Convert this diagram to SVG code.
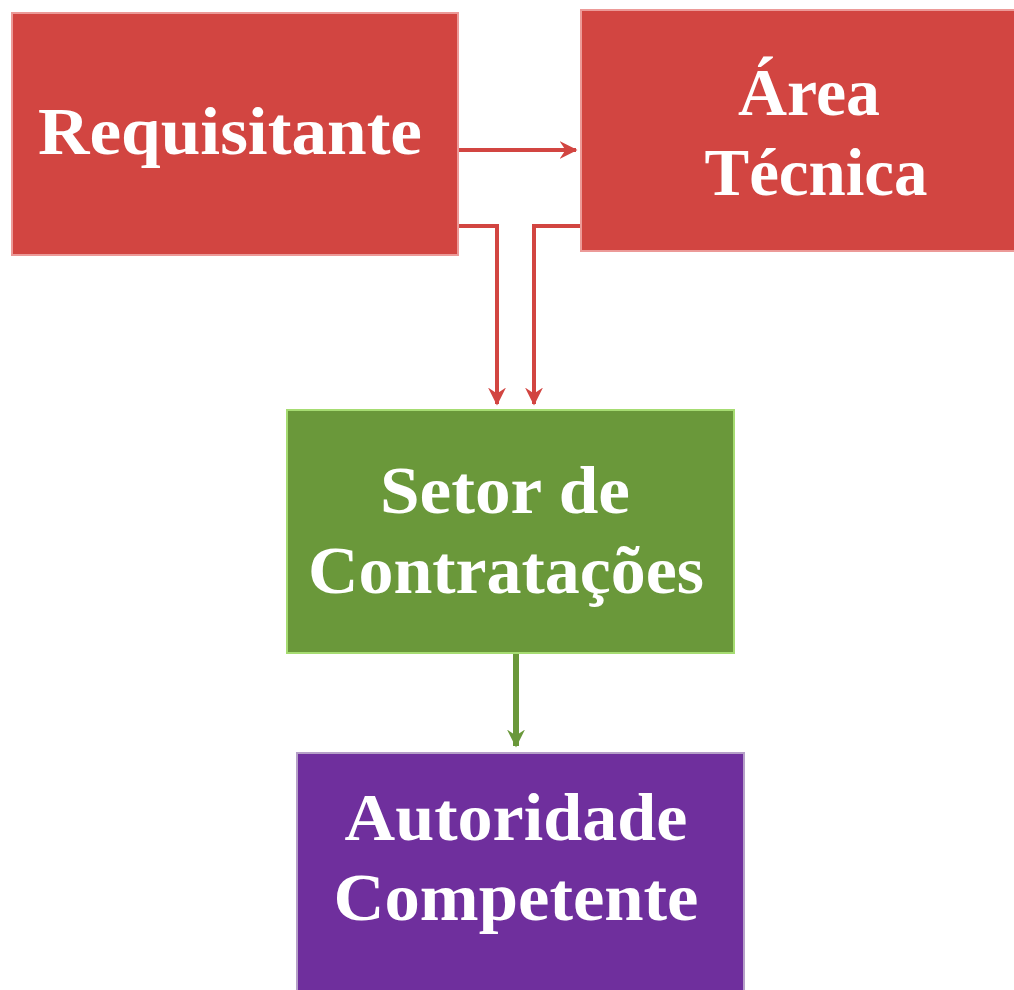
<svg xmlns="http://www.w3.org/2000/svg" width="1014" height="990" viewBox="0 0 1014 990">
<defs>
<style>
.t{font-family:"Liberation Serif","DejaVu Serif",serif;font-weight:bold;font-size:68px;fill:#ffffff;text-anchor:middle}
.red{fill:#d24541;stroke:#ec9a98;stroke-width:2}
.grn{fill:#6a983a;stroke:#a6dc72;stroke-width:2}
.pur{fill:#6f2f9d;stroke:#b6a0c8;stroke-width:2}
.cr{fill:none;stroke:#d24541;stroke-width:4}
.cg{fill:none;stroke:#6a983a;stroke-width:6}
</style>
<marker id="ar" viewBox="0 0 12 12" refX="11" refY="6" markerWidth="18" markerHeight="18" markerUnits="userSpaceOnUse" orient="auto">
<path d="M0,0 L12,6 L0,12 L4,6 Z" fill="#d24541"/>
</marker>
<marker id="ag" viewBox="0 0 12 12" refX="11" refY="6" markerWidth="18" markerHeight="18" markerUnits="userSpaceOnUse" orient="auto">
<path d="M0,0 L12,6 L0,12 L4,6 Z" fill="#6a983a"/>
</marker>
</defs>
<g id="connectors">
<path class="cr" d="M458,150 H576" marker-end="url(#ar)"/>
<path class="cr" d="M458,226 H497 V404" marker-end="url(#ar)"/>
<path class="cr" d="M581,226 H534 V404" marker-end="url(#ar)"/>
<path class="cg" d="M516,653 V746" marker-end="url(#ag)"/>
</g>
<g id="requisitante">
<rect class="red" x="12" y="13" width="446" height="242"/>
<text class="t" x="230" y="154" textLength="384" lengthAdjust="spacingAndGlyphs">Requisitante</text>
</g>
<g id="area-tecnica">
<rect class="red" x="581" y="10" width="434" height="241"/>
<text class="t" x="809" y="115" textLength="142" lengthAdjust="spacingAndGlyphs">Área</text>
<text class="t" x="816" y="195" textLength="223" lengthAdjust="spacingAndGlyphs">Técnica</text>
</g>
<g id="setor">
<rect class="grn" x="287" y="410" width="447" height="243"/>
<text class="t" x="505" y="513" textLength="250" lengthAdjust="spacingAndGlyphs">Setor de</text>
<text class="t" x="506" y="593" textLength="396" lengthAdjust="spacingAndGlyphs">Contratações</text>
</g>
<g id="autoridade">
<rect class="pur" x="297" y="753" width="447" height="240"/>
<text class="t" x="516" y="840" textLength="343" lengthAdjust="spacingAndGlyphs">Autoridade</text>
<text class="t" x="516" y="920" textLength="365" lengthAdjust="spacingAndGlyphs">Competente</text>
</g>
</svg>
